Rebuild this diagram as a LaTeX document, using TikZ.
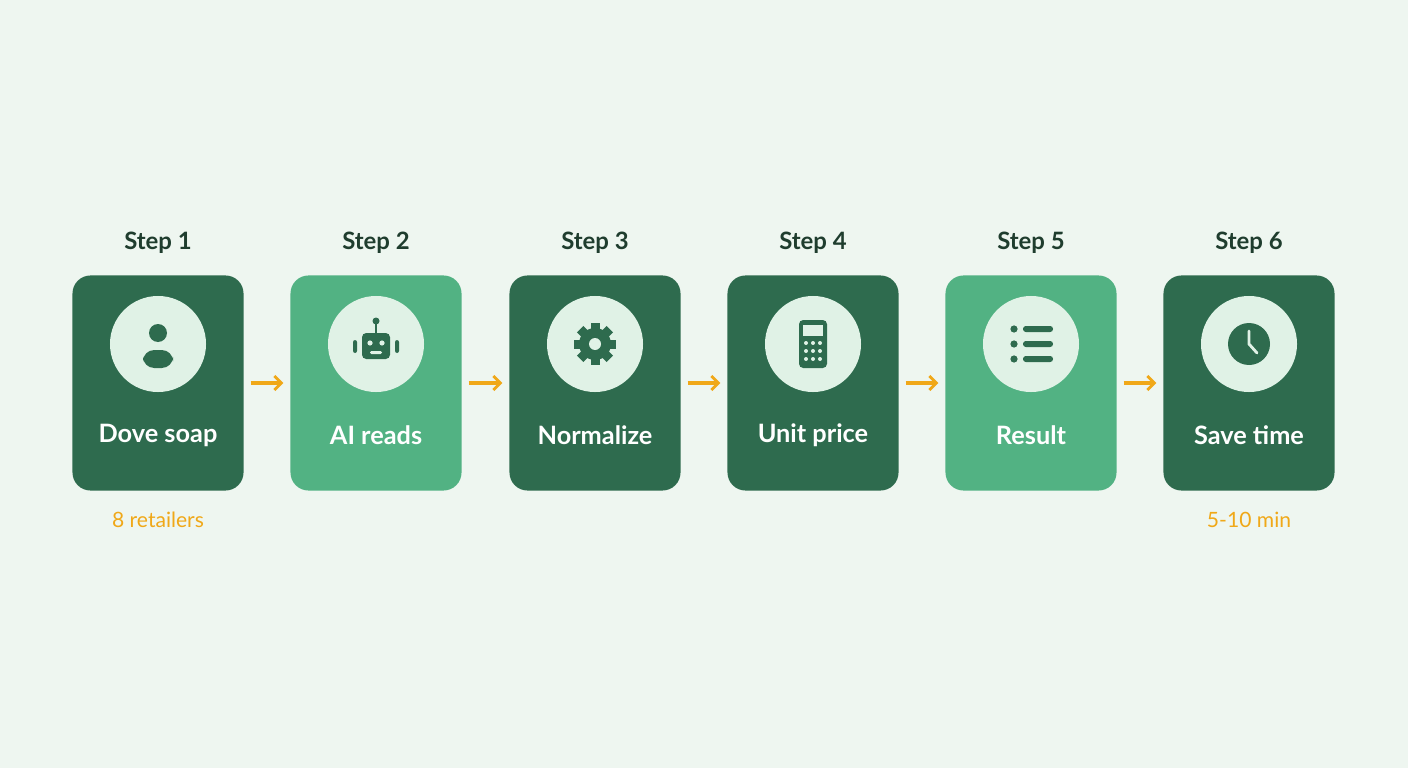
\documentclass[tikz,border=0pt]{standalone}
\usepackage{fontspec}
\usetikzlibrary{arrows.meta}
\setmainfont{Lato}
\definecolor{bgmint}{HTML}{EEF6F0}
\definecolor{darkgreen}{HTML}{2E6B4E}
\definecolor{lightgreen}{HTML}{52B283}
\definecolor{iconbg}{HTML}{E0F2E6}
\definecolor{inkgreen}{HTML}{1F3D2E}
\definecolor{amber}{HTML}{F0A818}
\tikzset{
  stepbox/.style={rounded corners=0.45cm, minimum width=4.275cm, minimum height=5.375cm, inner sep=0pt},
  steplabel/.style={font=\fontsize{17}{20}\selectfont\bfseries, text=inkgreen},
  boxtext/.style={font=\fontsize{18}{21}\selectfont\bfseries, text=white},
  subtext/.style={font=\fontsize{15}{18}\selectfont, text=amber},
  flow/.style={-{Straight Barb[length=5pt, width=10pt, line width=2pt]}, line width=2.2pt, amber, shorten <=0.17cm, shorten >=0.17cm},
  icon/.style={fill=darkgreen, draw=none}
}
\begin{document}
\begin{tikzpicture}[x=0.025cm, y=-0.025cm]
    % Background
    \fill[bgmint] (0,0) rectangle (1408,768);

    % Boxes, icon circles and labels
    \foreach \i/\cx/\col/\txt in {1/158/darkgreen/Dove soap, 2/376/lightgreen/AI reads, 3/595/darkgreen/Normalize, 4/813/darkgreen/Unit price, 5/1031/lightgreen/Result, 6/1249/darkgreen/Save time}{
        \node[stepbox, fill=\col] (box\i) at (\cx,383) {};
        \node[circle, fill=iconbg, minimum size=2.4cm, inner sep=0pt] (ic\i) at (\cx,344) {};
        \node[boxtext] (txt\i) at (\cx,435) {\txt};
        \node[steplabel] (step\i) at (\cx,243) {Step \i};
    }

    % Arrows between steps
    \foreach \a/\b in {1/2, 2/3, 3/4, 4/5, 5/6}
        \draw[flow] (box\a) -- (box\b);

    \node[subtext] (note1) at (158,520) {8 retailers};
    \node[subtext] (note6) at (1249,520) {5-10 min};

    % Icon 1: person
    \fill[icon] (158,333) circle (9);
    \fill[icon, rounded corners=8] (143,368) rectangle (173,350);

    % Icon 2: robot
    \draw[darkgreen, line width=1.2pt] (376,333) -- (376,322);
    \fill[icon] (376,321) circle (3.5);
    \fill[icon, rounded corners=3] (362,333) rectangle (390,359);
    \fill[icon, rounded corners=1.5] (353,340) rectangle (357,353);
    \fill[icon, rounded corners=1.5] (395,340) rectangle (399,353);
    \fill[iconbg] (370,343) circle (2.6) (382,343) circle (2.6);
    \fill[iconbg, rounded corners=1] (370,351) rectangle (382,354);

    % Icon 3: gear
    \foreach \r in {0,45,...,315}
        \fill[icon, rotate around={\r:(595,344)}] (590.5,323) rectangle (599.5,334);
    \fill[icon] (595,344) circle (16);
    \fill[iconbg] (595,344) circle (6);

    % Icon 4: calculator
    \fill[icon, rounded corners=3] (799,320) rectangle (827,368);
    \fill[iconbg] (803,325) rectangle (823,336);
    \foreach \px in {806,813,820}
        \foreach \py in {343,351,359}
            \fill[iconbg] (\px,\py) circle (2);

    % Icon 5: list
    \foreach \py in {329,344,359}{
        \fill[icon] (1014,\py) circle (3.6);
        \fill[icon, rounded corners=2] (1023,\py-3) rectangle (1053,\py+3);
    }

    % Icon 6: clock
    \fill[icon] (1249,344) circle (21);
    \draw[iconbg, line width=2pt, line cap=round] (1249,331) -- (1249,344) -- (1257,353);
\end{tikzpicture}
\end{document}
